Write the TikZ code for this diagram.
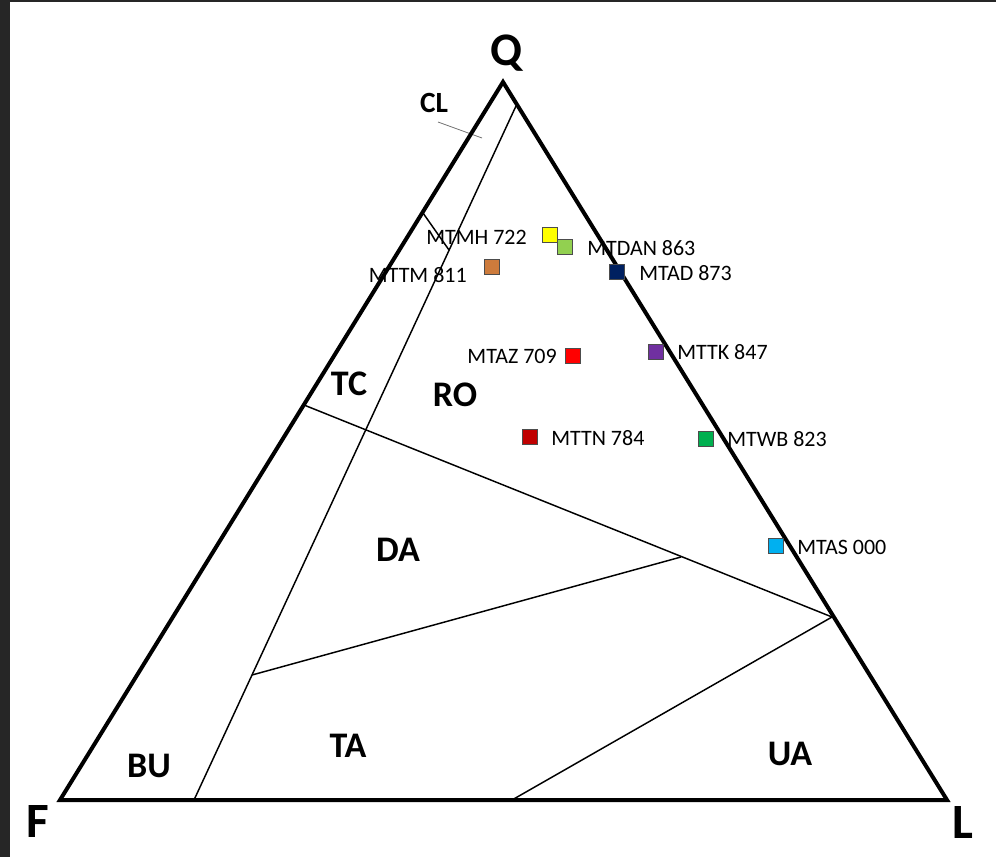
\documentclass[tikz,border=0pt]{standalone}
\usepackage{fontspec}
\setmainfont{Carlito}
\definecolor{frame}{HTML}{262626}
\definecolor{cYellow}{HTML}{FFFF00}
\definecolor{cLgreen}{HTML}{92D050}
\definecolor{cOrange}{HTML}{CD7B3C}
\definecolor{cNavy}{HTML}{002060}
\definecolor{cRed}{HTML}{FF0000}
\definecolor{cPurple}{HTML}{7030A0}
\definecolor{cDred}{HTML}{C00000}
\definecolor{cGreen}{HTML}{00B050}
\definecolor{cBlue}{HTML}{00B0F0}
\begin{document}
\begin{tikzpicture}[x=0.75pt,y=-0.75pt,
  outer/.style={line width=3pt, line join=miter, miter limit=20},
  bound/.style={line width=1.1pt},
  leader/.style={line width=0.6pt, draw=black!55},
  reg/.style={font=\fontsize{27}{27}\selectfont\bfseries, inner sep=0pt},
  small/.style={font=\fontsize{22}{22}\selectfont\bfseries, inner sep=0pt},
  apex/.style={font=\fontsize{37}{37}\selectfont\bfseries, inner sep=0pt},
  samp/.style={draw=black!70, line width=0.7pt, minimum size=11.5pt, inner sep=0pt},
  lab/.style={font=\fontsize{16.5}{16.5}\selectfont, inner sep=0pt}]
\useasboundingbox (0,0) rectangle (996,857);
\fill[white] (0,0) rectangle (996,857);
\fill[frame] (0,0) rectangle (10,857);
\fill[frame] (0,0) rectangle (996,2);

% vertices and boundary points
\coordinate (Q) at (503,82);
\coordinate (F) at (60,800);
\coordinate (L) at (947,800);
\coordinate (i1) at (516,106);
\coordinate (i2) at (194,800);
\coordinate (c1) at (423,213);
\coordinate (c2) at (449,250);
\coordinate (d1) at (304,405);
\coordinate (d2) at (832,617);
\coordinate (t1) at (252,675);
\coordinate (t2) at (681,557);
\coordinate (u1) at (512,800);
\coordinate (l1) at (438,122);
\coordinate (l2) at (482,138);

% data labels
\node[lab, anchor=east] (nMH) at (527,237) {MTMH 722};
\node[lab, anchor=west] (nDAN) at (587,248) {MTDAN 863};
\node[lab, anchor=east] (nTM) at (467,275) {MTTM 811};
\node[lab, anchor=west] (nAD) at (639,273) {MTAD 873};
\node[lab, anchor=east] (nAZ) at (557,356) {MTAZ 709};
\node[lab, anchor=west] (nTK) at (677,352) {MTTK 847};
\node[lab, anchor=west] (nTN) at (551,438) {MTTN 784};
\node[lab, anchor=west] (nWB) at (727,439) {MTWB 823};
\node[lab, anchor=west] (nAS) at (797,547) {MTAS 000};

% field boundaries
\draw[bound] (i1) -- (i2);
\draw[bound] (c1) -- (c2);
\draw[bound] (d1) -- (d2);
\draw[bound] (t1) -- (t2);
\draw[bound] (d2) -- (u1);
\draw[leader] (l1) -- (l2);

% outer triangle
\draw[outer] (Q) -- (L) -- (F) -- cycle;

% samples
\node[samp, fill=cYellow] (sMH) at (550,235) {};
\node[samp, fill=cLgreen] (sDAN) at (565,247) {};
\node[samp, fill=cOrange] (sTM) at (492,267) {};
\node[samp, fill=cNavy] (sAD) at (617,272) {};
\node[samp, fill=cRed] (sAZ) at (573,356) {};
\node[samp, fill=cPurple] (sTK) at (656,352) {};
\node[samp, fill=cDred] (sTN) at (530,437) {};
\node[samp, fill=cGreen] (sWB) at (706,439) {};
\node[samp, fill=cBlue] (sAS) at (776,546) {};

% region labels
\node[small] (CL) at (434,103) {CL};
\node[reg] (TC) at (349,384) {TC};
\node[reg] (RO) at (455,395) {RO};
\node[reg] (DA) at (398,550) {DA};
\node[reg] (TA) at (348,746) {TA};
\node[reg] (UA) at (790,754) {UA};
\node[reg] (BU) at (149,766) {BU};

% apex labels
\node[apex, anchor=base, font=\fontsize{35}{35}\selectfont\bfseries] (lQ) at (507,65) {Q};
\node[apex] (lF) at (38,821) {F};
\node[apex] (lL) at (963,822) {L};
\end{tikzpicture}
\end{document}
